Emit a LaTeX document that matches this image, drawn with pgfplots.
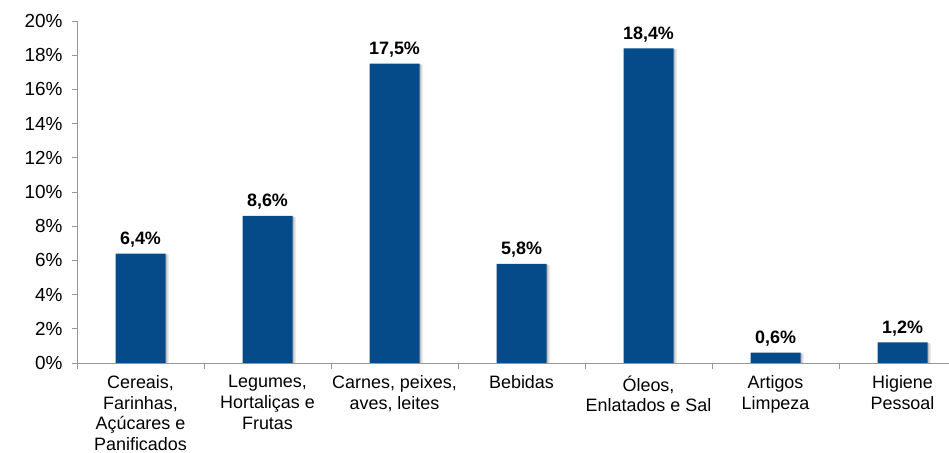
\documentclass[border=0pt]{standalone}
\usepackage{fontspec}
\setmainfont{Liberation Sans}
\usepackage{pgfplots}
\pgfplotsset{compat=1.18}
\definecolor{barblue}{RGB}{5,74,137}
\definecolor{axgray}{RGB}{150,150,150}
\begin{document}
\begin{tikzpicture}
\useasboundingbox (0,0) rectangle (949bp,453bp);
\begin{axis}[
  at={(77bp,90bp)}, anchor=south west,
  scale only axis, width=872bp, height=342bp,
  xmin=-0.5, xmax=6.366, ymin=0, ymax=20,
  axis lines*=left,
  axis line style={axgray, line width=0.9bp},
  tick align=outside,
  /pgf/number format/assume math mode=true,
  ytick={0,2,...,20},
  yticklabel={\pgfmathprintnumber{\tick}\%},
  y tick label style={font=\fontsize{19}{22}\selectfont, xshift=-6bp},
  ytick style={axgray, line width=0.9bp},
  major tick length=5bp,
  xtick={0,...,6},
  xticklabels={{Cereais,\\Farinhas,\\Açúcares e\\Panificados},{Legumes,\\Hortaliças e\\Frutas},{Carnes, peixes,\\aves, leites},{Bebidas},{Óleos,\\Enlatados e Sal},{Artigos\\Limpeza},{Higiene\\Pessoal}},
  major x tick style={draw=none},
  minor xtick={-0.5,0.5,...,5.5},
  minor x tick style={axgray, line width=0.9bp},
  minor tick length=6bp,
  x tick label style={align=center, font=\fontsize{18}{20.8}\selectfont, yshift=-4bp},
  ybar, bar width=50bp, bar shift=0pt,
  nodes near coords={\pgfmathprintnumber[fixed,fixed zerofill,precision=1,use comma]{\pgfplotspointmeta}\%},
  nodes near coords style={font=\bfseries\fontsize{18}{21}\selectfont, text=black, yshift=3bp},
]
\addplot[fill=barblue, draw=none,
  preaction={fill=black, opacity=0.12, transform canvas={xshift=3bp, yshift=-1bp}},
  preaction={fill=black, opacity=0.15, transform canvas={xshift=1.5bp, yshift=-0.5bp}}] coordinates {
 (0,6.4) (1,8.6) (2,17.5) (3,5.8) (4,18.4) (5,0.6) (6,1.2)
};
\end{axis}
\end{tikzpicture}
\end{document}
